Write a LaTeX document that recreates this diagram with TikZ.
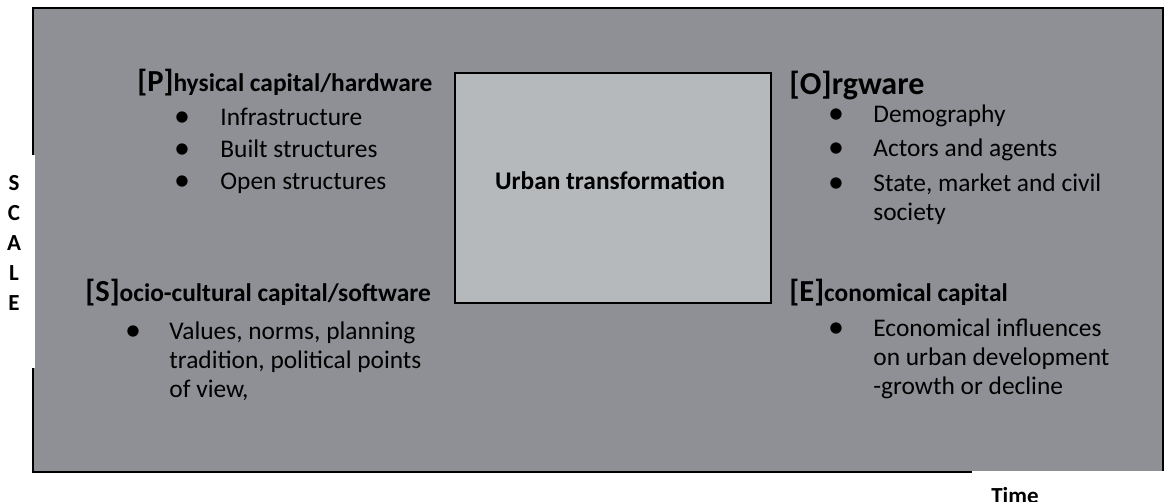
\documentclass[tikz,border=0pt]{standalone}
\usepackage{fontspec}
\setmainfont{Carlito}
\definecolor{framegrey}{RGB}{142,144,149}
\definecolor{coregrey}{RGB}{182,185,188}
\newcommand{\bodyfont}{\fontsize{12.7}{14.5}\selectfont}
\newcommand{\bigfont}{\fontsize{15.3}{18}\selectfont}
\newcommand{\axisfont}{\fontsize{11.5}{15}\selectfont}
\newcommand{\initial}[1]{{\bigfont[#1]}}
\newcommand{\lines}[1]{\parbox[t]{140pt}{\raggedright #1}}

\begin{document}
\begin{tikzpicture}[x=0.5pt,y=-0.5pt]
  \tikzset{
    frame/.style={draw, line width=0.75pt, fill=framegrey},
    core/.style={draw, line width=0.75pt, fill=coregrey, minimum width=158pt, minimum height=115pt, inner sep=0},
    head/.style={anchor=base west, inner sep=0, font=\bodyfont\bfseries},
    bul/.style={anchor=base, inner sep=0, font=\fontsize{16}{18}\selectfont},
    txt/.style={anchor=base west, inner sep=0, font=\bodyfont},
    axis/.style={inner sep=0, align=center, font=\axisfont\bfseries}
  }
  \useasboundingbox (0,0) rectangle (1164,502);
  \draw [frame] (33,8) rectangle (1163,472);
  % white text boxes lying over the frame
  \fill [white] (0,155) rectangle (34.6,368);
  \fill [white] (972,471.4) rectangle (1164,502);
  \node [axis] (scale) at (14,243) {S\\C\\A\\L\\E};
  \node [axis, anchor=base] (time) at (1015,503.5) {Time};

  \node [core] (core) at (613,188) {};
  \node [anchor=base, inner sep=0, font=\bodyfont\bfseries] (urban) at ([xshift=-1.5pt,yshift=-1pt]core.center) {Urban transformation};

  % hardware
  \node [head] (phys) at (137,92) {\initial{P}hysical capital/hardware};
  \node [bul] (phys1b) at (182,127) {•};
  \node [txt] (phys1) at (220,126) {Infrastructure};
  \node [bul] (phys2b) at (182,159) {•};
  \node [txt] (phys2) at (220,158) {Built structures};
  \node [bul] (phys3b) at (182,191) {•};
  \node [txt] (phys3) at (220,190) {Open structures};

  % software
  \node [head] (socio) at (85,302) {\initial{S}ocio-cultural capital/software};
  \node [bul] (socio1b) at (133,341) {•};
  \node [txt] (socio1) at (169,340) {\lines{Values, norms, planning\\tradition, political points\\of view,}};

  % orgware
  \node [head, font=\fontsize{16}{18}\selectfont\bfseries] (org) at (789,95) {[O]rgware};
  \node [bul] (org1b) at (836,124) {•};
  \node [txt] (org1) at (873,123) {Demography};
  \node [bul] (org2b) at (836,158) {•};
  \node [txt] (org2) at (873,157) {Actors and agents};
  \node [bul] (org3b) at (836,193) {•};
  \node [txt] (org3) at (873,192) {\lines{State, market and civil\\society}};

  % economy
  \node [head] (eco) at (789,302) {\initial{E}conomical capital};
  \node [bul] (eco1b) at (836,338) {•};
  \node [txt] (eco1) at (873,337) {\lines{Economical influences\\on urban development\\-growth or decline}};
\end{tikzpicture}
\end{document}
